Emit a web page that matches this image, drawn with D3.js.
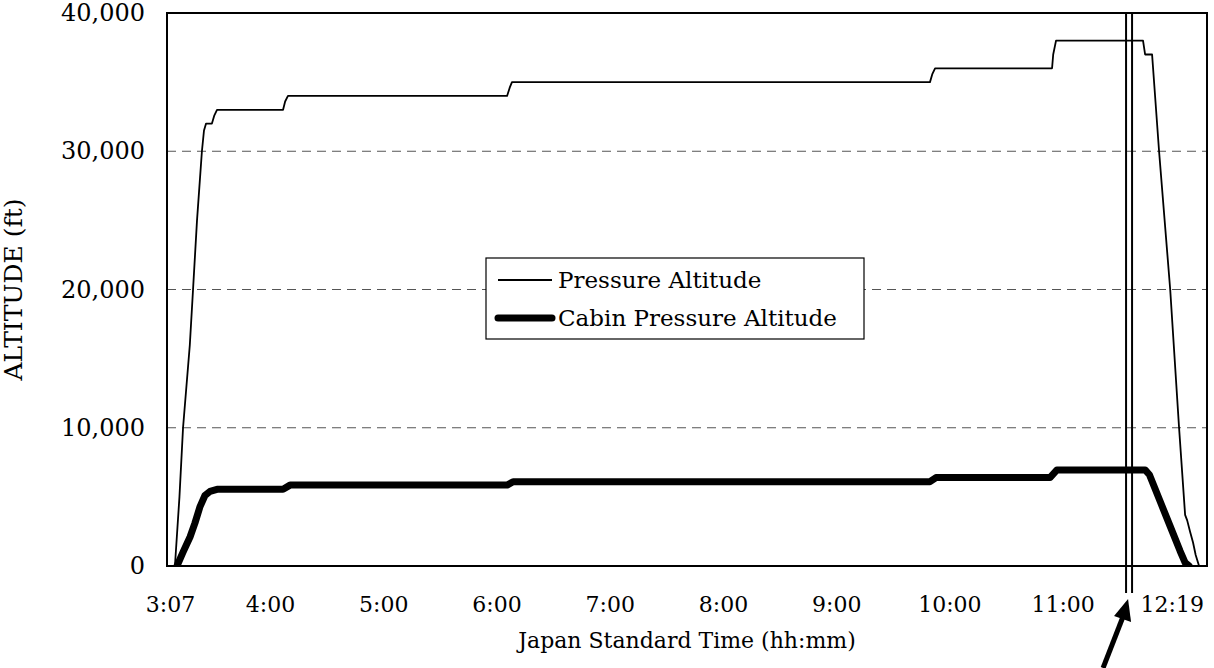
<!DOCTYPE html>
<html><head><meta charset="utf-8">
<script src="https://cdn.jsdelivr.net/npm/d3@7"></script>
<style>
html,body{margin:0;padding:0;background:#fff;}
svg text{font-family:"DejaVu Serif",serif;fill:#000;}
</style></head>
<body><svg id="chart" width="1214" height="668"></svg>
<script>
// time in minutes after 0:00 (JST)
const paTime = [189.6,192,193.9,197.5,199.2,201.3,203.9,205,206.1,209.2,210.5,211.9,246.9,248,249.5,365.6,367,368.2,589.7,591,592.4,654.4,655,656.5,702.6,703.7,707.4,711.1,717.0,721.7,724.9,726,727.5,729.1,730.5,732.3];
const paAlt  = [0,5000,10000,16000,20000,25000,30000,31500,32000,32000,32600,33000,33000,33600,34000,34000,34600,35000,35000,35600,36000,36000,37000,38000,38000,37000,37000,30000,20000,10000,3700,3300,2500,1700,800,0];
const caTime = [190.7,193.9,197.6,200.2,202.9,205.5,208.2,211.9,246.9,250.6,365.6,368.8,589.7,592.9,653.3,657.0,703.7,706.0,711.6,716.9,722.2,724.9,727.0];
const caAlt  = [0,1000,2100,3100,4300,5100,5400,5550,5550,5850,5850,6100,6100,6400,6400,6950,6950,6600,4700,2900,1100,250,0];
const tickTimes  = [187,240,300,360,420,480,540,600,660,739];
const tickLabels = ["3:07","4:00","5:00","6:00","7:00","8:00","9:00","10:00","11:00","12:19"];
const yTicks = [0,10000,20000,30000,40000];
const eventTime = 695.2;
const seriesNames = ["Pressure Altitude","Cabin Pressure Altitude"];

const L=167,R=1207,T=13,B=566;
const svg = d3.select("#chart");
const x = d3.scaleLinear().domain([185.4,736.5]).range([L,R]);
const y = d3.scaleLinear().domain([0,40000]).range([B,T]);

// grid
svg.append("g").selectAll("line").data(yTicks.filter(v=>v>0&&v<40000)).join("line")
  .attr("x1",L).attr("x2",R).attr("y1",d=>y(d)).attr("y2",d=>y(d))
  .attr("stroke","#555").attr("stroke-width",1).attr("stroke-dasharray","9,6");

svg.append("clipPath").attr("id","clip").append("rect")
  .attr("x",L).attr("y",T).attr("width",R-L).attr("height",B-T);

const line = d3.line().x(d=>x(d[0])).y(d=>y(d[1]));
const g = svg.append("g").attr("clip-path","url(#clip)");
g.append("path").datum(caTime.map((t,i)=>[t,caAlt[i]])).attr("d",line)
  .attr("fill","none").attr("stroke","#000").attr("stroke-width",7)
  .attr("stroke-linejoin","round").attr("stroke-linecap","round");
g.append("path").datum(paTime.map((t,i)=>[t,paAlt[i]])).attr("d",line)
  .attr("fill","none").attr("stroke","#000").attr("stroke-width",1.8)
  .attr("stroke-linejoin","round");

// frame
svg.append("rect").attr("x",L).attr("y",T).attr("width",R-L).attr("height",B-T)
  .attr("fill","none").attr("stroke","#000").attr("stroke-width",2);

// event double line
[-3,3].forEach(o=>{
  svg.append("line").attr("x1",x(eventTime)+o).attr("x2",x(eventTime)+o)
    .attr("y1",T).attr("y2",593).attr("stroke","#000").attr("stroke-width",2);
});

// arrow
const ax = x(eventTime);
svg.append("line").attr("x1",ax-26).attr("y1",668).attr("x2",ax-5).attr("y2",614)
  .attr("stroke","#000").attr("stroke-width",5);
svg.append("path").attr("d",`M${ax-1},${599} L${ax-15},${616} L${ax+2},${622} Z`).attr("fill","#000");

// y axis
const yAxis = d3.axisLeft(y).tickValues(yTicks).tickFormat(d3.format(",")).tickSize(0).tickPadding(22);
const ya = svg.append("g").attr("transform",`translate(${L},0)`).call(yAxis);
ya.select(".domain").remove();
ya.selectAll("text").attr("font-size",24).attr("font-family","DejaVu Serif");

// x axis
const xAxis = d3.axisBottom(x).tickValues(tickTimes).tickFormat((d,i)=>tickLabels[i]).tickSize(0).tickPadding(30);
const xa = svg.append("g").attr("transform",`translate(0,${B})`).call(xAxis);
xa.select(".domain").remove();
xa.selectAll("text").attr("font-size",22).attr("font-family","DejaVu Serif")
  .each(function(d){ if(x(d)>R-30){ d3.select(this.parentNode).attr("transform",`translate(${R-3},0)`); d3.select(this).attr("text-anchor","end"); }});

// titles
svg.append("text").attr("x",(L+R)/2).attr("y",648).attr("text-anchor","middle")
  .attr("font-size",22).text("Japan Standard Time (hh:mm)");
svg.append("text").attr("transform",`translate(22,${(T+B)/2}) rotate(-90)`).attr("text-anchor","middle")
  .attr("font-size",25).text("ALTITUDE (ft)");

// legend
const lg = svg.append("g");
lg.append("rect").attr("x",486).attr("y",258).attr("width",378).attr("height",81)
  .attr("fill","#fff").attr("stroke","#000").attr("stroke-width",1.2);
[0,1].forEach(i=>{
  const yy = 280 + i*38;
  lg.append("line").attr("x1",498).attr("x2",552).attr("y1",yy).attr("y2",yy)
    .attr("stroke","#000").attr("stroke-width",i?7:2).attr("stroke-linecap",i?"round":"butt");
  lg.append("text").attr("x",558).attr("y",yy).attr("dy","0.35em").attr("font-size",23).text(seriesNames[i]);
});
</script></body></html>
